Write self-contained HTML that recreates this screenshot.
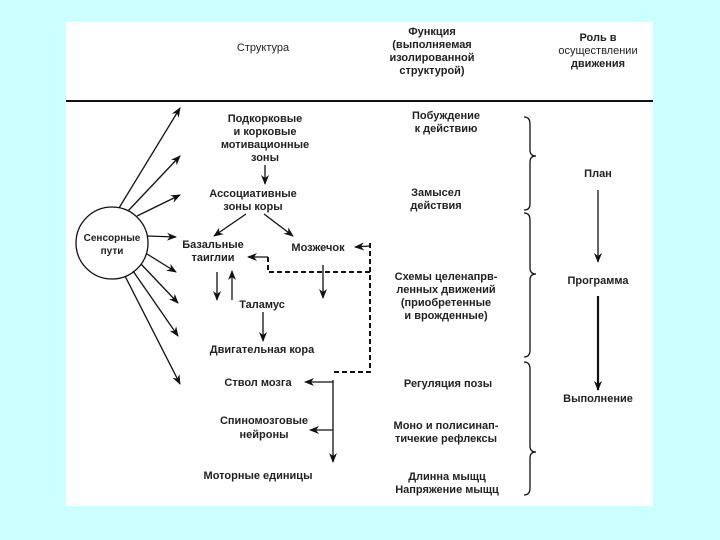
<!DOCTYPE html>
<html><head><meta charset="utf-8"><style>
html,body{margin:0;padding:0;background:#ccffff;}
svg{display:block}
text{font-family:"Liberation Sans","DejaVu Sans",sans-serif;font-size:11px;font-weight:bold;fill:#222;text-anchor:middle}
</style></head><body>
<svg width="720" height="540" viewBox="0 0 720 540">
<defs>
<marker id="a" markerWidth="10" markerHeight="8" refX="9" refY="4" orient="auto" markerUnits="userSpaceOnUse"><path d="M0,0 L10,4 L0,8 L3,4z" fill="#111"/></marker>
</defs>
<rect x="66" y="22" width="587" height="484" fill="#fff"/>
<line x1="66" y1="101" x2="653" y2="101" stroke="#111" stroke-width="2"/>
<g stroke="#111" stroke-width="1.3" fill="none">
<circle cx="112" cy="243" r="36"/>
<line x1="119" y1="208" x2="180" y2="108" marker-end="url(#a)"/>
<line x1="128" y1="211" x2="180" y2="156" marker-end="url(#a)"/>
<line x1="137" y1="216" x2="180" y2="195" marker-end="url(#a)"/>
<line x1="147" y1="236" x2="176" y2="237" marker-end="url(#a)"/>
<line x1="147" y1="254" x2="176" y2="272" marker-end="url(#a)"/>
<line x1="141" y1="264" x2="178" y2="303" marker-end="url(#a)"/>
<line x1="133" y1="271" x2="178" y2="336" marker-end="url(#a)"/>
<line x1="125" y1="276" x2="180" y2="384" marker-end="url(#a)"/>
<line x1="265" y1="165" x2="265" y2="184" marker-end="url(#a)"/>
<line x1="246" y1="214" x2="214" y2="236" marker-end="url(#a)"/>
<line x1="264" y1="214" x2="293" y2="236" marker-end="url(#a)"/>
<line x1="268" y1="257" x2="248" y2="257" marker-end="url(#a)"/>
<line x1="370" y1="246" x2="355" y2="247" marker-end="url(#a)"/>
<line x1="323" y1="265" x2="323" y2="298" marker-end="url(#a)"/>
<line x1="217" y1="272" x2="217" y2="300" marker-end="url(#a)"/>
<line x1="232" y1="300" x2="232" y2="271" marker-end="url(#a)"/>
<line x1="263" y1="312" x2="263" y2="341" marker-end="url(#a)"/>
<line x1="333" y1="380" x2="333" y2="462" marker-end="url(#a)"/>
<line x1="333" y1="382" x2="305" y2="382" marker-end="url(#a)"/>
<line x1="333" y1="430" x2="310" y2="430" marker-end="url(#a)"/>
<line x1="598" y1="190" x2="598" y2="262" marker-end="url(#a)"/>
<line x1="598" y1="296" x2="598" y2="390" stroke-width="2.2" marker-end="url(#a)"/>
<path d="M268 257 V272 H370 M370 243 V372 H333" stroke-dasharray="5,3" stroke-width="2"/>
<path d="M524 117 Q530 117 530 124 V150 Q530 156 536 156 Q530 156 530 162 V204 Q530 210 524 210"/>
<path d="M524 213 Q530 213 530 220 V268 Q530 274 536 274 Q530 274 530 280 V350 Q530 357 524 357"/>
<path d="M524 362 Q530 362 530 369 V446 Q530 452 536 452 Q530 452 530 458 V488 Q530 495 524 495"/>
</g>
<text x="263" y="51" style="font-weight:normal">Структура</text>
<text x="432" y="35">Функция</text><text x="432" y="48">(выполняемая</text><text x="432" y="61">изолированной</text><text x="432" y="74">структурой)</text>
<text x="598" y="41">Роль в</text><text x="598" y="54" style="font-weight:normal">осуществлении</text><text x="598" y="67">движения</text>
<text x="265" y="122">Подкорковые</text><text x="265" y="135">и корковые</text><text x="265" y="148">мотивационные</text><text x="265" y="161">зоны</text>
<text x="253" y="197">Ассоциативные</text><text x="253" y="210">зоны коры</text>
<text x="112" y="241" style="font-size:10px">Сенсорные</text><text x="112" y="254" style="font-size:10px">пути</text>
<text x="213" y="248">Базальные</text><text x="213" y="261">таиглии</text>
<text x="318" y="251">Мозжечок</text>
<text x="262" y="308">Таламус</text>
<text x="262" y="353">Двигательная кора</text>
<text x="258" y="386">Ствол мозга</text>
<text x="264" y="424">Спиномозговые</text><text x="264" y="438">нейроны</text>
<text x="258" y="479">Моторные единицы</text>
<text x="446" y="119">Побуждение</text><text x="446" y="132">к действию</text>
<text x="436" y="196">Замысел</text><text x="436" y="209">действия</text>
<text x="446" y="280">Схемы целенапрв-</text><text x="446" y="293">ленных движений</text><text x="446" y="306">(приобретенные</text><text x="446" y="319">и врожденные)</text>
<text x="448" y="387">Регуляция позы</text>
<text x="446" y="429">Моно и полисинап-</text><text x="446" y="442">тичекие рефлексы</text>
<text x="447" y="480">Длинна мыщц</text><text x="447" y="493">Напряжение мыщц</text>
<text x="598" y="177">План</text>
<text x="598" y="284">Программа</text>
<text x="598" y="402">Выполнение</text>
</svg>
</body></html>
